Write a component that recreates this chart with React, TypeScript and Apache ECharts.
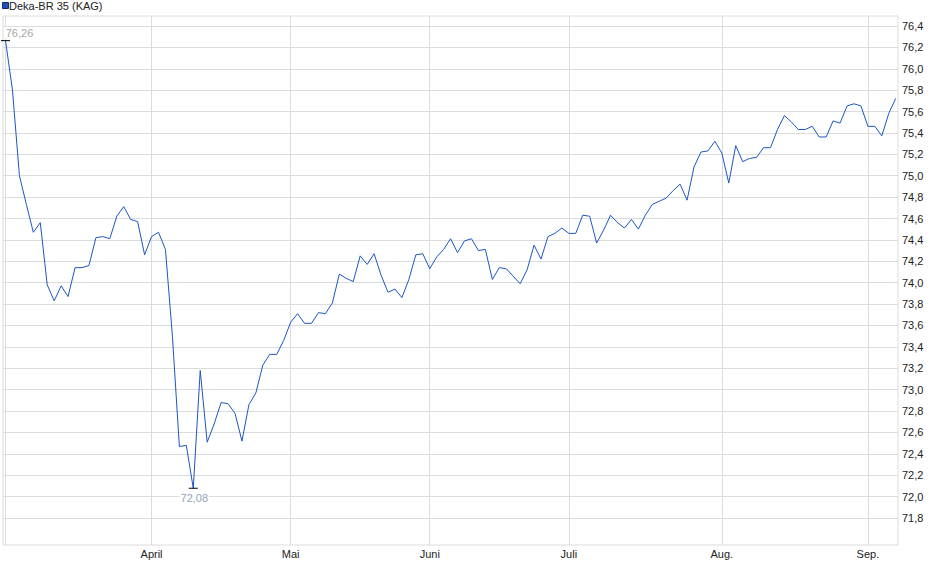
import { useEffect, useRef } from 'react';
import * as echarts from 'echarts';

const seriesName = 'Deka-BR 35 (KAG)';

// Schlusskurse, ein Wert je Handelstag (Anfang März bis Anfang September)
const values = [
  76.26, 75.8, 75.0, 74.73, 74.47, 74.56, 73.98, 73.83, 73.97, 73.87,
  74.14, 74.14, 74.16, 74.42, 74.43, 74.41, 74.62, 74.71, 74.59, 74.57,
  74.26, 74.43, 74.47, 74.31, 73.5, 72.47, 72.48, 72.08, 73.18, 72.51,
  72.68, 72.88, 72.87, 72.78, 72.52, 72.86, 72.97, 73.23, 73.33, 73.33,
  73.46, 73.63, 73.71, 73.62, 73.62, 73.72, 73.71, 73.81, 74.08, 74.04,
  74.01, 74.25, 74.17, 74.27, 74.07, 73.91, 73.94, 73.86, 74.03, 74.26,
  74.27, 74.13, 74.24, 74.31, 74.41, 74.28, 74.39, 74.41, 74.3, 74.31,
  74.03, 74.14, 74.13, 74.06, 73.99, 74.12, 74.35, 74.22, 74.43, 74.46,
  74.51, 74.46, 74.46, 74.63, 74.62, 74.37, 74.49, 74.63, 74.56, 74.51,
  74.59, 74.5, 74.63, 74.73, 74.76, 74.79, 74.86, 74.92, 74.77, 75.08,
  75.22, 75.23, 75.32, 75.21, 74.93, 75.28, 75.13, 75.16, 75.17, 75.26,
  75.26, 75.43, 75.56, 75.5, 75.43, 75.43, 75.46, 75.36, 75.36, 75.51,
  75.49, 75.65, 75.67, 75.65, 75.46, 75.46, 75.37, 75.58, 75.72,
];

// erster Handelstag des Monats (Index in values) und Beschriftung
const monthLabels = ['April', 'Mai', 'Juni', 'Juli', 'Aug.', 'Sep.'];
const monthStartIndex = [21, 41, 61, 81, 103, 124];

const yMin = 71.55;
const yMax = 76.49;
const yTickMin = 71.8;
const yTickMax = 76.4;
const yTickStep = 0.2;

const font = '"Liberation Sans", Arial, sans-serif';
const gridColor = '#dcdcdc';
const lineColor = '#1c56c4';

const fmt = (v: number, d: number) => v.toFixed(d).replace('.', ',');

export default function App() {
  const chartRef = useRef<HTMLDivElement>(null);

  useEffect(() => {
    const chart = echarts.init(chartRef.current, null, { renderer: 'svg' });
    const categories = values.map((_, i) => String(i));

    const option = {
      animation: false,
      backgroundColor: '#fff',
      textStyle: { fontFamily: font },
      graphic: [
        {
          type: 'rect',
          left: 2,
          top: 2,
          shape: { width: 6, height: 6 },
          style: { fill: '#1f50b4', stroke: '#0e2f73', lineWidth: 1 },
        },
        {
          type: 'text',
          left: 9,
          top: 0,
          style: { text: seriesName, fontSize: 11, fontFamily: font, fill: '#222' },
        },
      ],
      grid: [
        // Rahmen
        { left: 3, right: 42, top: 16, bottom: 34, show: true, borderColor: gridColor, borderWidth: 1 },
        // Y-Raster und Beschriftung
        { left: 3, right: 42, top: 26, bottom: 61 },
        // Daten
        { left: 5.5, right: 44.3, top: 16, bottom: 34 },
      ],
      xAxis: [
        { gridIndex: 0, type: 'value', show: false },
        { gridIndex: 1, type: 'value', show: false },
        {
          gridIndex: 2,
          type: 'category',
          data: categories,
          boundaryGap: false,
          axisLine: { show: false },
          axisTick: { show: false },
          axisLabel: {
            interval: (idx: number) => monthStartIndex.includes(idx),
            formatter: (_: string, idx: number) => {
              const k = monthStartIndex.indexOf(idx);
              return k >= 0 ? monthLabels[k] : '';
            },
            color: '#222',
            fontSize: 11,
            fontFamily: font,
            margin: 3,
          },
          splitLine: {
            show: true,
            interval: (idx: number) => idx === 0 || monthStartIndex.includes(idx),
            lineStyle: { color: gridColor, width: 1 },
          },
        },
      ],
      yAxis: [
        { gridIndex: 0, type: 'value', show: false },
        {
          gridIndex: 1,
          type: 'value',
          position: 'right',
          min: yTickMin,
          max: yTickMax,
          interval: yTickStep,
          axisLine: { show: false },
          axisTick: { show: false },
          axisLabel: {
            formatter: (v: number) => fmt(v, 1),
            color: '#222',
            fontSize: 11,
            fontFamily: font,
            margin: 4,
          },
          splitLine: { show: true, lineStyle: { color: gridColor, width: 1 } },
        },
        { gridIndex: 2, type: 'value', min: yMin, max: yMax, show: false },
      ],
      series: [
        {
          name: seriesName,
          type: 'line',
          xAxisIndex: 2,
          yAxisIndex: 2,
          data: values,
          showSymbol: false,
          lineStyle: { color: lineColor, width: 1 },
          itemStyle: { color: lineColor },
          markPoint: {
            symbol: 'rect',
            symbolSize: [9, 1],
            itemStyle: { color: '#000' },
            data: [
              {
                type: 'max',
                label: {
                  position: 'inside',
                  offset: [14, -8],
                  color: '#aaa6a3',
                  backgroundColor: '#fff',
                  padding: [0, 1],
                  fontSize: 11,
                  fontFamily: font,
                  formatter: (p: any) => fmt(p.value, 2),
                },
              },
              {
                type: 'min',
                label: {
                  position: 'inside',
                  offset: [1, 10],
                  color: '#94a3b8',
                  backgroundColor: '#fff',
                  padding: [0, 1],
                  fontSize: 11,
                  fontFamily: font,
                  formatter: (p: any) => fmt(p.value, 2),
                },
              },
            ],
          },
        },
      ],
    };

    chart.setOption(option);
    return () => {
      chart.dispose();
    };
  }, []);

  return (
    <div
      ref={chartRef}
      style={{ position: 'absolute', left: 0, top: 0, width: '940px', height: '579px' }}
    />
  );
}
